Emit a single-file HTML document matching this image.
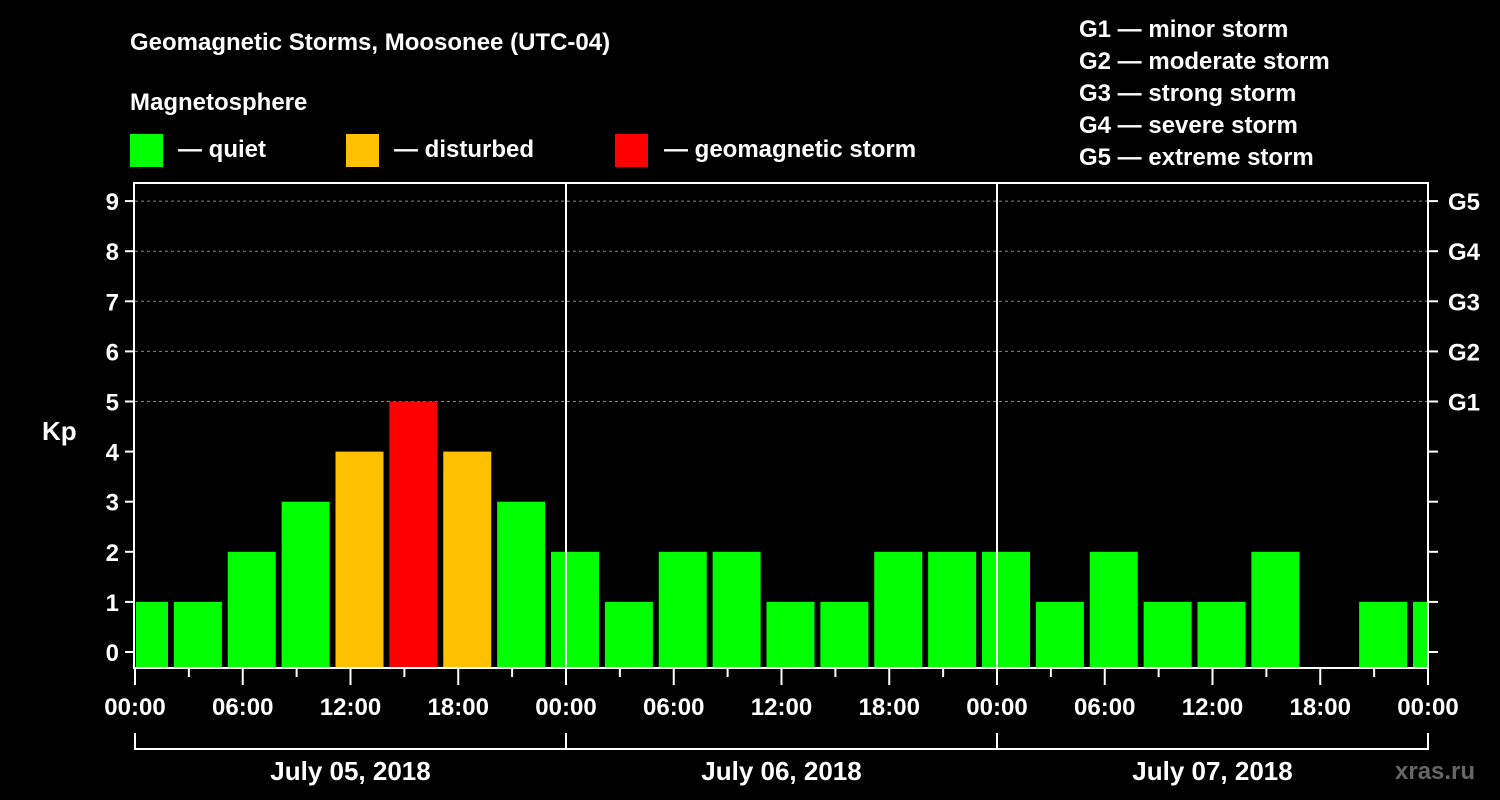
<!DOCTYPE html>
<html><head><meta charset="utf-8"><style>
body{margin:0;background:#000;width:1500px;height:800px;overflow:hidden}
svg{display:block;font-family:"Liberation Sans",Arial,sans-serif;font-weight:bold}
</style></head><body>
<svg id="c" width="1500" height="800">
<text x="130" y="50" fill="#fff" font-size="24">Geomagnetic Storms, Moosonee (UTC-04)</text>
<text x="130" y="110" fill="#fff" font-size="24">Magnetosphere</text>
<g><rect x="130" y="134" width="33" height="33" fill="#00ff00"/><text x="178" y="157" fill="#fff" font-size="24">— quiet</text></g>
<g><rect x="346" y="134" width="33" height="33" fill="#ffc000"/><text x="394" y="157" fill="#fff" font-size="24">— disturbed</text></g>
<g><rect x="615" y="134" width="33" height="33" fill="#ff0000"/><text x="664" y="157" fill="#fff" font-size="24">— geomagnetic storm</text></g>
<g fill="#fff" font-size="24">
<text x="1079" y="37">G1 — minor storm</text><text x="1079" y="69">G2 — moderate storm</text><text x="1079" y="101">G3 — strong storm</text><text x="1079" y="133">G4 — severe storm</text><text x="1079" y="165">G5 — extreme storm</text></g>
<text x="42" y="440" fill="#fff" font-size="26">Kp</text>
<text x="1395" y="779" fill="#666" font-size="24">xras.ru</text>
<g id="grid"></g><g id="bars"></g><g id="axes"></g>
</svg>
<script>
const kpValues=[1,1,2,3,4,5,4,3,2,1,2,2,1,1,2,2,2,1,2,1,1,2,null,1,1];
const yTicks=[0,1,2,3,4,5,6,7,8,9];
const gLabels=["G1","G2","G3","G4","G5"];
const hourLabels=["00:00","06:00","12:00","18:00"];
const dayLabels=["July 05, 2018","July 06, 2018","July 07, 2018"];
const NS="http://www.w3.org/2000/svg";
const L=135,R=1428,T=183,B=668;
const x=h=>L+h*(R-L)/72;
const y=v=>652-v*50.1;
function mk(p,t,a){const e=document.createElementNS(NS,t);for(const k in a)e.setAttribute(k,a[k]);p.appendChild(e);return e;}
const grid=document.getElementById('grid'),bars=document.getElementById('bars'),axes=document.getElementById('axes');
for(let v=5;v<=9;v++){const g=mk(grid,'line',{x1:L,x2:R,y1:y(v),y2:y(v),stroke:'#888','stroke-dasharray':'3,3','stroke-width':1});

}
kpValues.forEach((v,i)=>{if(v===null)return;
let x0=x(3*i)-15,x1=x0+48;x0=Math.max(x0,L+1);x1=Math.min(x1,R-1);
const c=v>=5?'#ff0000':v>=4?'#ffc000':'#00ff00';
const r=mk(bars,'rect',{x:x0,y:y(v),width:x1-x0,height:B-y(v),fill:c});

});
for(let d=1;d<3;d++){const l=mk(axes,'line',{x1:x(24*d),x2:x(24*d),y1:T,y2:B,stroke:'#fff','stroke-width':2});

}
const fr=mk(axes,'rect',{x:L-1,y:T,width:R-L+1,height:B-T,fill:'none',stroke:'#fff','stroke-width':2});


yTicks.forEach(v=>{mk(axes,'line',{x1:L-10,x2:L,y1:y(v),y2:y(v),stroke:'#fff','stroke-width':2});
mk(axes,'line',{x1:R,x2:R+10,y1:y(v),y2:y(v),stroke:'#fff','stroke-width':2});
const t=mk(axes,'text',{x:L-16,y:y(v)+9,fill:'#fff','font-size':24,'text-anchor':'end'});t.textContent=v;

});
gLabels.forEach((g,i)=>{const t=mk(axes,'text',{x:R+20,y:y(5+i)+9,fill:'#fff','font-size':24});t.textContent=g;

});
for(let h=0;h<=72;h+=3){const maj=h%6===0;
mk(axes,'line',{x1:x(h),x2:x(h),y1:B,y2:B+(maj?17:9),stroke:'#fff','stroke-width':2});
if(maj){const t=mk(axes,'text',{x:x(h),y:715,fill:'#fff','font-size':24,'text-anchor':'middle'});t.textContent=hourLabels[(h/6)%4];

}}
mk(axes,'line',{x1:L,x2:R,y1:749,y2:749,stroke:'#fff','stroke-width':2});
for(let d=0;d<=3;d++)mk(axes,'line',{x1:x(24*d),x2:x(24*d),y1:733,y2:750,stroke:'#fff','stroke-width':2});
dayLabels.forEach((s,i)=>{const t=mk(axes,'text',{x:x(24*i+12),y:780,fill:'#fff','font-size':26,'text-anchor':'middle'});t.textContent=s;

});
</script>
</body></html>
